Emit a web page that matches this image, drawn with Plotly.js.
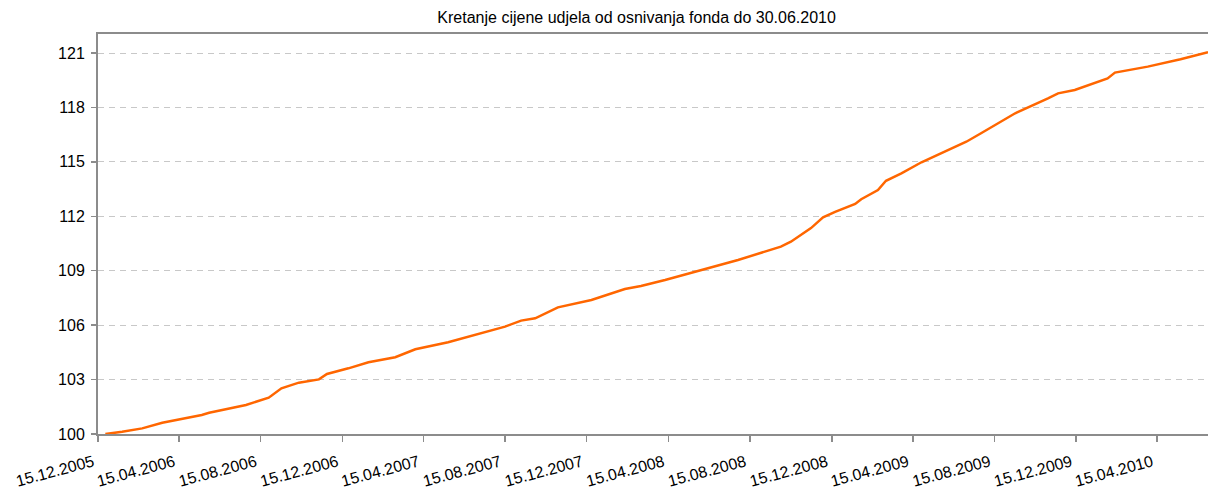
<!DOCTYPE html>
<html>
<head>
<meta charset="utf-8">
<script src="https://cdn.plot.ly/plotly-3.0.1.min.js"></script>
<style>html,body{margin:0;padding:0;background:#fff;}#chart{width:1208px;height:492px;}</style>
</head>
<body>
<div id="chart"></div>
<script>
const chartTitle = "Kretanje cijene udjela od osnivanja fonda do 30.06.2010";

const dates = [
  "2005-12-26","2006-01-20","2006-02-19","2006-03-21","2006-05-19","2006-05-30",
  "2006-07-24","2006-08-17","2006-08-27","2006-09-15","2006-10-11","2006-11-10",
  "2006-11-22","2006-12-24","2007-01-23","2007-03-04","2007-04-03","2007-05-22",
  "2007-07-01","2007-07-31","2007-08-15","2007-09-08","2007-09-29","2007-11-02",
  "2007-12-22","2008-02-10","2008-03-05","2008-04-10","2008-06-09","2008-07-28",
  "2008-09-30","2008-10-15","2008-11-14","2008-12-02","2008-12-20","2009-01-19",
  "2009-01-28","2009-02-22","2009-03-06","2009-03-29","2009-04-28","2009-05-28",
  "2009-07-04","2009-07-26","2009-09-15","2009-11-03","2009-11-18","2009-12-13",
  "2010-01-31","2010-02-11","2010-04-01","2010-05-20","2010-06-30"
];

const prices = [
  100.00,100.12,100.31,100.62,101.05,101.17,
  101.60,101.87,102.00,102.52,102.83,103.01,
  103.31,103.62,103.95,104.23,104.67,105.06,
  105.46,105.73,105.92,106.25,106.38,106.98,
  107.39,107.99,108.16,108.49,109.10,109.59,
  110.33,110.60,111.35,111.94,112.25,112.68,
  112.94,113.45,113.96,114.37,114.98,115.47,
  116.11,116.58,117.68,118.50,118.78,118.96,
  119.60,119.92,120.25,120.66,121.05
];

const xTickVals = [
  "2005-12-15","2006-04-15","2006-08-15","2006-12-15","2007-04-15","2007-08-15",
  "2007-12-15","2008-04-15","2008-08-15","2008-12-15","2009-04-15","2009-08-15",
  "2009-12-15","2010-04-15"
];
const xTickText = [
  "15.12.2005","15.04.2006","15.08.2006","15.12.2006","15.04.2007","15.08.2007",
  "15.12.2007","15.04.2008","15.08.2008","15.12.2008","15.04.2009","15.08.2009",
  "15.12.2009","15.04.2010"
];
const yTickVals = [100,103,106,109,112,115,118,121];

const font = "Liberation Sans, Arial, sans-serif";

Plotly.newPlot("chart", [{
  x: dates,
  y: prices,
  type: "scatter",
  mode: "lines",
  line: {color: "#ff6600", width: 2.5},
  hoverinfo: "skip"
}], {
  width: 1208,
  height: 492,
  margin: {l: 98, r: 0, t: 34, b: 58},
  paper_bgcolor: "#ffffff",
  plot_bgcolor: "#ffffff",
  showlegend: false,
  title: {
    text: chartTitle,
    font: {family: font, size: 16, color: "#000"},
    x: 0.527, xref: "container", xanchor: "center",
    y: 0.965, yref: "container", yanchor: "middle"
  },
  xaxis: {
    type: "date",
    range: ["2005-12-15", "2010-06-30"],
    tickmode: "array",
    tickvals: xTickVals,
    ticktext: xTickText,
    tickangle: -15,
    ticks: "outside",
    ticklen: 6,
    tickwidth: 1.5,
    tickcolor: "#8c8c8c",
    ticklabelshift: -5,
    ticklabelstandoff: 5,
    showline: true,
    linecolor: "#8c8c8c",
    linewidth: 2,
    mirror: true,
    showgrid: false,
    zeroline: false,
    tickfont: {family: font, size: 16, color: "#000"}
  },
  yaxis: {
    range: [100, 122.05],
    tickmode: "array",
    tickvals: yTickVals,
    ticks: "outside",
    ticklen: 5,
    tickwidth: 1.5,
    tickcolor: "#8c8c8c",
    ticklabelstandoff: 3,
    showline: true,
    linecolor: "#8c8c8c",
    linewidth: 2,
    showgrid: true,
    gridcolor: "#c8c8c8",
    gridwidth: 1,
    griddash: "6px,5px",
    zeroline: false,
    tickfont: {family: font, size: 16, color: "#000"}
  }
}, {displayModeBar: false, staticPlot: true});
</script>
</body>
</html>
